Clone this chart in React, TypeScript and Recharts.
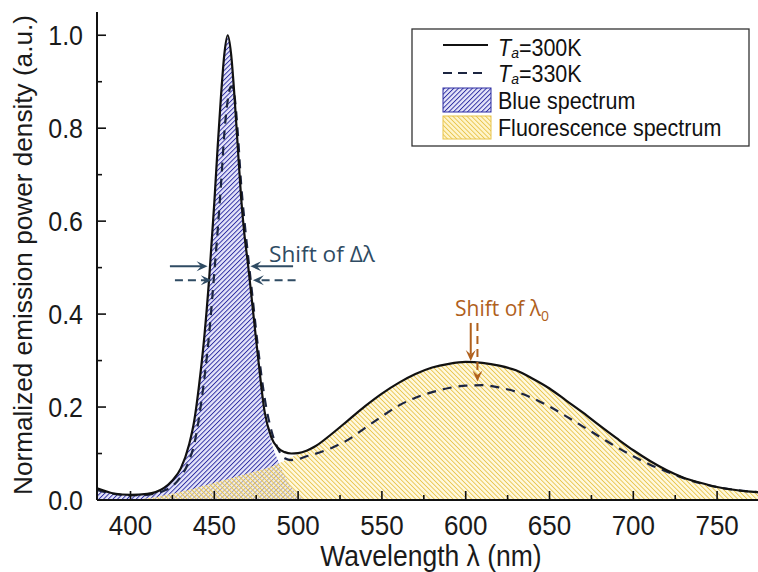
import React from "react";
import { ComposedChart, Area, Line, XAxis, YAxis, ReferenceLine } from "recharts";

// wavelength grid (nm), denser across the blue LED peak
const wavelength = [
  380, 390, 400, 410, 415, 420, 425, 430, 435, 438, 441, 444, 447, 450, 452, 454, 456, 458, 460, 462,
  464, 466, 468, 470, 473, 476, 480, 484, 488, 492, 496, 500, 505, 510, 520, 530, 540, 550, 560, 570,
  580, 590, 600, 610, 620, 630, 640, 650, 660, 670, 680, 690, 700, 710, 720, 730, 740, 750, 760, 770, 775,
];

// total normalized spectrum at Ta = 300 K
const ta300 = [
  0.025, 0.014, 0.011, 0.013, 0.017, 0.026, 0.042, 0.068, 0.12, 0.17, 0.25, 0.35, 0.48, 0.64, 0.76, 0.87, 0.96, 1.0, 0.96, 0.87,
  0.76, 0.65, 0.57, 0.51, 0.41, 0.31, 0.19, 0.135, 0.112, 0.103, 0.1, 0.101, 0.106, 0.115, 0.142, 0.172, 0.202, 0.229, 0.252, 0.271,
  0.285, 0.293, 0.297, 0.295, 0.289, 0.279, 0.261, 0.24, 0.214, 0.188, 0.16, 0.133, 0.107, 0.084, 0.064, 0.048, 0.037, 0.028, 0.022, 0.018, 0.017,
];

// total normalized spectrum at Ta = 330 K
const ta330 = [
  0.022, 0.013, 0.01, 0.011, 0.014, 0.02, 0.03, 0.05, 0.085, 0.12, 0.18, 0.26, 0.36, 0.49, 0.58, 0.68, 0.79, 0.86, 0.89, 0.87,
  0.79, 0.68, 0.6, 0.53, 0.43, 0.33, 0.22, 0.15, 0.11, 0.09, 0.086, 0.088, 0.094, 0.099, 0.112, 0.13, 0.155, 0.18, 0.203, 0.22,
  0.232, 0.241, 0.246, 0.247, 0.242, 0.233, 0.219, 0.201, 0.18, 0.158, 0.136, 0.114, 0.094, 0.076, 0.061, 0.047, 0.036, 0.028, 0.022, 0.018, 0.017,
];

// blue chip emission (hatched area), ends at 505 nm
const blueSpectrum = [
  0.025, 0.014, 0.011, 0.013, 0.017, 0.026, 0.042, 0.068, 0.12, 0.17, 0.25, 0.35, 0.48, 0.64, 0.76, 0.87, 0.96, 1.0, 0.96, 0.87,
  0.76, 0.65, 0.57, 0.51, 0.41, 0.31, 0.19, 0.125, 0.085, 0.052, 0.027, 0.01, 0,
];

// phosphor emission (hatched area), starts at 400 nm
const fluoSpectrum = [
  null, null, 0, 0.004, 0.006, 0.01, 0.014, 0.018, 0.022, 0.025, 0.028, 0.031, 0.034, 0.037, 0.039, 0.041, 0.043, 0.045, 0.047, 0.049,
  0.051, 0.053, 0.055, 0.057, 0.06, 0.063, 0.067, 0.072, 0.078, 0.085, 0.092, 0.099, 0.105, 0.115, 0.142, 0.172, 0.202, 0.229, 0.252, 0.271,
  0.285, 0.293, 0.297, 0.295, 0.289, 0.279, 0.261, 0.24, 0.214, 0.188, 0.16, 0.133, 0.107, 0.084, 0.064, 0.048, 0.037, 0.028, 0.022, 0.018, 0.017,
];

const xMajor = [400, 450, 500, 550, 600, 650, 700, 750];
const xMinor = [425, 475, 525, 575, 625, 675, 725];
const yMajor = [0, 0.2, 0.4, 0.6, 0.8, 1.0];
const yMinor = [0.1, 0.3, 0.5, 0.7, 0.9];

const xTicks = [...xMajor, ...xMinor].sort((a, b) => a - b);
const yTicks = [...yMajor, ...yMinor].sort((a, b) => a - b);

// FWHM arrows and peak-shift arrows, in data units
const fwhmArrows = [
  { from: 423.5, to: 446, y: 0.503, dashed: false },
  { from: 497, to: 471.5, y: 0.503, dashed: false },
  { from: 426.5, to: 448.5, y: 0.473, dashed: true },
  { from: 498.5, to: 473, y: 0.473, dashed: true },
];
const peakArrows = [
  { x: 603, from: 0.381, to: 0.299, dashed: false },
  { x: 607, from: 0.381, to: 0.255, dashed: true },
];

const data = wavelength.map((w, i) => ({
  w,
  ta300: ta300[i],
  ta330: ta330[i],
  blue: blueSpectrum[i] ?? null,
  fluo: fluoSpectrum[i],
}));

const FONT = "'Liberation Sans', Arial, sans-serif";
const AXIS = "#111";

function AxisTick(props: any) {
  const { x, y, payload, side } = props;
  const v = payload.value;
  const horizontal = side === "bottom" || side === "top";
  const major = horizontal ? xMajor.includes(v) : yMajor.includes(v);
  const len = major ? 9 : 5;
  let line;
  if (side === "bottom") line = <line x1={x} y1={y} x2={x} y2={y - len} />;
  else if (side === "top") line = <line x1={x} y1={y} x2={x} y2={y + len} />;
  else if (side === "left") line = <line x1={x} y1={y} x2={x + len} y2={y} />;
  else line = <line x1={x} y1={y} x2={x - len} y2={y} />;

  let label = null;
  if (major && side === "bottom") {
    label = (
      <text transform={`translate(${x},${y + 35}) scale(1,1.08)`} textAnchor="middle" fontSize={26}>
        {v}
      </text>
    );
  } else if (major && side === "left") {
    label = (
      <text transform={`translate(${x - 14},${y + 9.5}) scale(1,1.1)`} textAnchor="end" fontSize={25}>
        {v.toFixed(1)}
      </text>
    );
  }
  return (
    <g stroke={AXIS} strokeWidth={1.6}>
      {line}
      {label && (
        <g stroke="none" fill="#1a1a1a" fontFamily={FONT}>
          {label}
        </g>
      )}
    </g>
  );
}

const arrowShape = (color: string, dashed: boolean) => (p: any) => {
  const { x1, y1, x2, y2 } = p;
  const d = Math.hypot(x2 - x1, y2 - y1) || 1;
  const ux = (x2 - x1) / d;
  const uy = (y2 - y1) / d;
  const L = 11;
  const W = 5;
  const bx = x2 - ux * L;
  const by = y2 - uy * L;
  const nx = x2 - ux * L * 0.6;
  const ny = y2 - uy * L * 0.6;
  const pts = [
    [x2, y2],
    [bx - uy * W, by + ux * W],
    [nx, ny],
    [bx + uy * W, by - ux * W],
  ]
    .map((q) => q.join(","))
    .join(" ");
  return (
    <g>
      <line x1={x1} y1={y1} x2={nx} y2={ny} stroke={color} strokeWidth={2} strokeDasharray={dashed ? "8 5" : undefined} />
      <polygon points={pts} fill={color} />
    </g>
  );
};

function Hatch({ id, angle, bg, bgOpacity, stripe, width }: any) {
  return (
    <pattern id={id} patternUnits="userSpaceOnUse" width={3.3} height={3.3} patternTransform={`rotate(${angle})`}>
      <rect width={3.3} height={3.3} fill={bg} fillOpacity={bgOpacity} />
      <line x1={0} y1={0} x2={0} y2={3.3} stroke={stripe} strokeWidth={width} />
    </pattern>
  );
}

const BLUE_HATCH = { angle: 45, bg: "#e6e6fa", bgOpacity: 1, stripe: "#2d2da2", width: 1.9 };
const FLUO_HATCH = { angle: -45, bg: "#fff5cc", bgOpacity: 0.6, stripe: "#e8c44a", width: 1.8 };

function Overlay() {
  const legendText = { fontFamily: FONT, fontSize: 21.5, fill: "#111" };
  return (
    <svg width={758} height={572} style={{ position: "absolute", left: 0, top: 0, pointerEvents: "none" }}>
      <defs>
        <Hatch id="legendBlue" {...BLUE_HATCH} />
        <Hatch id="legendFluo" {...FLUO_HATCH} bgOpacity={1} />
      </defs>

      {/* axis titles */}
      <text
        transform="translate(32,255) rotate(-90)"
        textAnchor="middle"
        fontFamily={FONT}
        fontSize={25}
        fill="#1a1a1a"
        textLength={480}
        lengthAdjust="spacingAndGlyphs"
      >
        Normalized emission power density (a.u.)
      </text>
      <text
        transform="translate(431,566) scale(1,1.08)"
        textAnchor="middle"
        fontFamily={FONT}
        fontSize={26.5}
        fill="#1a1a1a"
      >
        Wavelength λ (nm)
      </text>

      {/* annotations */}
      <text x={269} y={262} fontFamily="'Open Sans', sans-serif" fontSize={22} fill="#2f4b63" textLength={106} lengthAdjust="spacingAndGlyphs">
        Shift of Δλ
      </text>
      <text x={455} y={316} fontFamily="'Open Sans', sans-serif" fontSize={21} fill="#b0601c">
        Shift of λ<tspan fontSize={14} dy={5}>0</tspan>
      </text>

      {/* legend */}
      <rect x={412} y={29} width={337} height={117} fill="#fff" stroke="#333" strokeWidth={1.3} />
      <line x1={443} y1={45} x2={488} y2={45} stroke="#111" strokeWidth={2.2} />
      <line x1={443} y1={73} x2={488} y2={73} stroke="#1c2541" strokeWidth={2.2} strokeDasharray="9 6" />
      <rect x={443} y={88} width={48} height={24} fill="url(#legendBlue)" stroke="#2d2da2" strokeWidth={1} />
      <rect x={443} y={116} width={48} height={23} fill="url(#legendFluo)" stroke="#e8c44a" strokeWidth={1} />
      <g {...legendText}>
        <text transform="translate(498,56) scale(1,1.08)">
          <tspan fontStyle="italic">T</tspan>
          <tspan fontStyle="italic" fontSize={14} dy={2}>a</tspan>
          <tspan dy={-2}>=300K</tspan>
        </text>
        <text transform="translate(498,82) scale(1,1.08)">
          <tspan fontStyle="italic">T</tspan>
          <tspan fontStyle="italic" fontSize={14} dy={2}>a</tspan>
          <tspan dy={-2}>=330K</tspan>
        </text>
        <text transform="translate(498,109) scale(1,1.08)">Blue spectrum</text>
        <text transform="translate(498,136) scale(1,1.08)">Fluorescence spectrum</text>
      </g>
    </svg>
  );
}

export default function App() {
  const xProps = {
    type: "number" as const,
    dataKey: "w",
    domain: [380, 775],
    allowDataOverflow: true,
    ticks: xTicks,
    interval: 0 as const,
    tickSize: 0,
    tickMargin: 0,
    tickLine: false,
    axisLine: { stroke: AXIS, strokeWidth: 2 },
  };
  const yProps = {
    type: "number" as const,
    domain: [0, 1.05],
    allowDataOverflow: true,
    ticks: yTicks,
    interval: 0 as const,
    tickSize: 0,
    tickMargin: 0,
    tickLine: false,
    axisLine: { stroke: AXIS, strokeWidth: 2 },
  };

  return (
    <div style={{ position: "absolute", left: 0, top: 0, width: 758, height: 572, background: "#fff" }}>
      <ComposedChart width={758} height={572} data={data} margin={{ top: 12, right: -1, bottom: 0, left: 0 }}>
        <defs>
          <Hatch id="blueHatch" {...BLUE_HATCH} />
          <Hatch id="fluoHatch" {...FLUO_HATCH} />
        </defs>
        <XAxis xAxisId="x" orientation="bottom" height={72} {...xProps} tick={<AxisTick side="bottom" />} />
        <XAxis xAxisId="top" orientation="top" height={0} {...xProps} tick={<AxisTick side="top" />} />
        <YAxis yAxisId="y" orientation="left" width={97} {...yProps} tick={<AxisTick side="left" />} />
        <YAxis yAxisId="right" orientation="right" width={0} {...yProps} tick={<AxisTick side="right" />} />

        <Area
          xAxisId="x"
          yAxisId="y"
          type="monotone"
          dataKey="blue"
          stroke="none"
          fill="url(#blueHatch)"
          fillOpacity={1}
          dot={false}
          activeDot={false}
          isAnimationActive={false}
        />
        <Area
          xAxisId="x"
          yAxisId="y"
          type="monotone"
          dataKey="fluo"
          stroke="none"
          fill="url(#fluoHatch)"
          fillOpacity={1}
          dot={false}
          activeDot={false}
          isAnimationActive={false}
        />
        <Line
          xAxisId="x"
          yAxisId="y"
          type="monotone"
          dataKey="ta330"
          stroke="#1c2541"
          strokeWidth={2.2}
          strokeDasharray="9 7"
          dot={false}
          activeDot={false}
          isAnimationActive={false}
        />
        <Line
          xAxisId="x"
          yAxisId="y"
          type="monotone"
          dataKey="ta300"
          stroke="#111"
          strokeWidth={2.2}
          dot={false}
          activeDot={false}
          isAnimationActive={false}
        />

        {fwhmArrows.map((a, i) => (
          <ReferenceLine
            key={`fwhm-${i}`}
            xAxisId="x"
            yAxisId="y"
            segment={[
              { x: a.from, y: a.y },
              { x: a.to, y: a.y },
            ]}
            shape={arrowShape("#2f4b63", a.dashed)}
          />
        ))}
        {peakArrows.map((a, i) => (
          <ReferenceLine
            key={`peak-${i}`}
            xAxisId="x"
            yAxisId="y"
            segment={[
              { x: a.x, y: a.from },
              { x: a.x, y: a.to },
            ]}
            shape={arrowShape("#b0601c", a.dashed)}
          />
        ))}
      </ComposedChart>
      <Overlay />
    </div>
  );
}
